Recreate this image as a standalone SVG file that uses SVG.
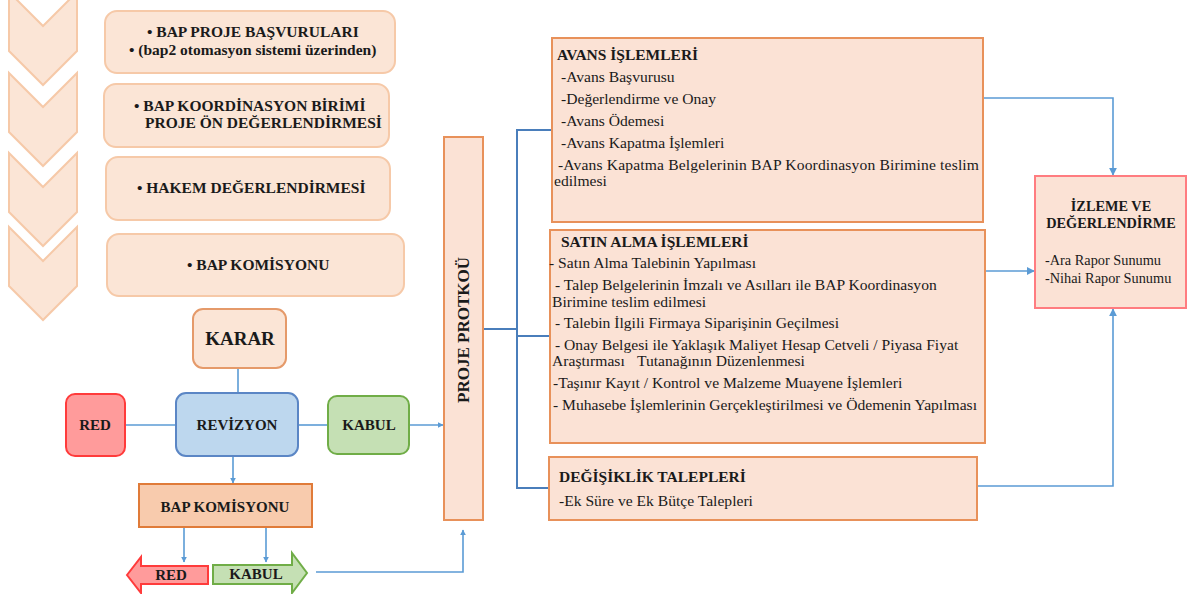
<svg xmlns="http://www.w3.org/2000/svg" width="1187" height="594" viewBox="0 0 1187 594">
<defs>
<style>
.chev{fill:#fbe5d6;stroke:#f6c9a8;stroke-width:2}
.lbox{fill:#fbe5d6;stroke:#f6c9a8;stroke-width:2}
.rbox{fill:#fbe2d5;stroke:#e8915a;stroke-width:2}
.con{fill:none;stroke:#5b9bd5;stroke-width:1.6}
.dcon{fill:none;stroke:#4a7ebb;stroke-width:2}
</style>
<marker id="ah" viewBox="0 0 10 10" refX="9" refY="5" markerWidth="6" markerHeight="6" markerUnits="userSpaceOnUse" orient="auto">
<path d="M0,0 L10,5 L0,10 z" fill="#5b9bd5"/>
</marker>
<marker id="ah2" viewBox="0 0 10 10" refX="9" refY="5" markerWidth="8" markerHeight="8" markerUnits="userSpaceOnUse" orient="auto">
<path d="M0,0 L10,5 L0,10 z" fill="#5b9bd5"/>
</marker>
</defs>
<rect width="1187" height="594" fill="#ffffff"/>

<g id="chevrons">
<polygon class="chev" points="9,-8 43,26 77,-8 77,51 43,85 9,51"/>
<polygon class="chev" points="9,73 43,107 77,73 77,132 43,166 9,132"/>
<polygon class="chev" points="9,153 43,187 77,153 77,212 43,246 9,212"/>
<polygon class="chev" points="9,227 43,261 77,227 77,286 43,320 9,286"/>
</g>

<g id="step1">
<rect class="lbox" x="105" y="11" width="290" height="62" rx="12"/>
<text font-family="Liberation Serif" font-size="15.5" font-weight="bold" fill="#1a1a1a" x="147" y="37">• BAP PROJE BAŞVURULARI</text>
<text font-family="Liberation Serif" font-size="15.5" font-weight="bold" fill="#1a1a1a" x="129" y="55">• (bap2 otomasyon sistemi üzerinden)</text>
</g>
<g id="step2">
<rect class="lbox" x="104" y="84" width="285" height="63" rx="12"/>
<text font-family="Liberation Serif" font-size="15.5" font-weight="bold" fill="#1a1a1a" x="134" y="111">• BAP KOORDİNASYON BİRİMİ</text>
<text font-family="Liberation Serif" font-size="15.5" font-weight="bold" fill="#1a1a1a" x="145" y="128">PROJE ÖN DEĞERLENDİRMESİ</text>
</g>
<g id="step3">
<rect class="lbox" x="106" y="157" width="284" height="63" rx="12"/>
<text font-family="Liberation Serif" font-size="15.5" font-weight="bold" fill="#1a1a1a" x="137" y="193">• HAKEM DEĞERLENDİRMESİ</text>
</g>
<g id="step4">
<rect class="lbox" x="107" y="234" width="297" height="62" rx="12"/>
<text font-family="Liberation Serif" font-size="15.5" font-weight="bold" fill="#1a1a1a" x="187" y="270">• BAP KOMİSYONU</text>
</g>

<g id="connectors">
<line class="con" x1="238" y1="368" x2="238" y2="393"/>
<line class="con" x1="125" y1="425" x2="176" y2="425"/>
<line class="con" x1="298" y1="425" x2="328" y2="425"/>
<line class="con" x1="409" y1="425" x2="443" y2="425" marker-end="url(#ah)"/>
<line class="con" x1="233" y1="457" x2="233" y2="483" marker-end="url(#ah)"/>
<line class="con" x1="184" y1="527" x2="184" y2="562" marker-end="url(#ah)"/>
<line class="con" x1="266" y1="527" x2="266" y2="562" marker-end="url(#ah)"/>
<path class="con" d="M316,572 H463 V530" marker-end="url(#ah)"/>
<path class="dcon" d="M483,329 H517 M517,130 V488 M516,130 H553 M516,336 H550 M516,488 H549"/>
<path class="con" d="M983,98 H1113 V175" marker-end="url(#ah2)"/>
<path class="con" d="M985,271 H1034" marker-end="url(#ah2)"/>
<path class="con" d="M977,486 H1113 V309" marker-end="url(#ah2)"/>
</g>

<g id="karar">
<rect x="193" y="309" width="93" height="59" rx="10" fill="#fbe5d6" stroke="#e59a6a" stroke-width="2"/>
<text font-family="Liberation Serif" font-size="19" font-weight="bold" fill="#1a1a1a" x="240" y="345" text-anchor="middle">KARAR</text>
</g>
<g id="revizyon">
<rect x="176" y="393" width="122" height="63" rx="10" fill="#bdd7ee" stroke="#5b86c5" stroke-width="2"/>
<text font-family="Liberation Serif" font-size="15" font-weight="bold" fill="#1a1a1a" x="237" y="430" text-anchor="middle">REVİZYON</text>
</g>
<g id="red1">
<rect x="66" y="394" width="59" height="62" rx="9" fill="#ff9b9b" stroke="#ff3b3b" stroke-width="2"/>
<text font-family="Liberation Serif" font-size="15" font-weight="bold" fill="#1a1a1a" x="95" y="430" text-anchor="middle">RED</text>
</g>
<g id="kabul1">
<rect x="328" y="396" width="81" height="58" rx="9" fill="#c5e0b4" stroke="#70ad47" stroke-width="2"/>
<text font-family="Liberation Serif" font-size="15" font-weight="bold" fill="#1a1a1a" x="369" y="430" text-anchor="middle">KABUL</text>
</g>
<g id="bapkom">
<rect x="139" y="484" width="173" height="43" fill="#f8cbad" stroke="#e07b39" stroke-width="2"/>
<text font-family="Liberation Serif" font-size="15" font-weight="bold" fill="#1a1a1a" x="225" y="512" text-anchor="middle">BAP KOMİSYONU</text>
</g>
<g id="red2">
<polygon points="127,575 141,557 141,566 208,566 208,584 141,584 141,593" fill="#ff9b9b" stroke="#ff3b3b" stroke-width="2"/>
<text font-family="Liberation Serif" font-size="15" font-weight="bold" fill="#1a1a1a" x="171" y="580" text-anchor="middle">RED</text>
</g>
<g id="kabul2">
<polygon points="213,565 292,565 292,553 307,573 292,593 292,584 213,584" fill="#c5e0b4" stroke="#70ad47" stroke-width="2"/>
<text font-family="Liberation Serif" font-size="15" font-weight="bold" fill="#1a1a1a" x="256" y="579" text-anchor="middle">KABUL</text>
</g>

<g id="proje">
<rect x="444" y="137" width="39" height="383" fill="#fbe2d5" stroke="#e8915a" stroke-width="2"/>
<text font-family="Liberation Serif" font-size="17" font-weight="bold" fill="#1a1a1a" transform="translate(469,330) rotate(-90)" text-anchor="middle">PROJE PROTKOÜ</text>
</g>

<g id="avans">
<rect class="rbox" x="552" y="38" width="431" height="184"/>
<text font-family="Liberation Serif" font-size="15.5" font-weight="bold" fill="#1a1a1a" x="557" y="60">AVANS İŞLEMLERİ</text>
<text font-family="Liberation Serif" font-size="15.6" fill="#1a1a1a" x="561" y="82">-Avans Başvurusu</text>
<text font-family="Liberation Serif" font-size="15.6" fill="#1a1a1a" x="561" y="104">-Değerlendirme ve Onay</text>
<text font-family="Liberation Serif" font-size="15.6" fill="#1a1a1a" x="561" y="126">-Avans Ödemesi</text>
<text font-family="Liberation Serif" font-size="15.6" fill="#1a1a1a" x="561" y="148">-Avans Kapatma İşlemleri</text>
<text font-family="Liberation Serif" font-size="15.6" fill="#1a1a1a" x="558" y="170" textLength="421" lengthAdjust="spacing">-Avans Kapatma Belgelerinin BAP Koordinasyon Birimine teslim</text>
<text font-family="Liberation Serif" font-size="15.6" fill="#1a1a1a" x="554" y="186">edilmesi</text>
</g>

<g id="satin">
<rect class="rbox" x="550" y="230" width="435" height="213"/>
<text font-family="Liberation Serif" font-size="15.5" font-weight="bold" fill="#1a1a1a" x="561" y="247">SATIN ALMA İŞLEMLERİ</text>
<text font-family="Liberation Serif" font-size="15.6" fill="#1a1a1a" x="549" y="268">- Satın Alma Talebinin Yapılması</text>
<text font-family="Liberation Serif" font-size="15.6" fill="#1a1a1a" x="555" y="290">- Talep Belgelerinin İmzalı ve Asılları ile BAP Koordinasyon</text>
<text font-family="Liberation Serif" font-size="15.6" fill="#1a1a1a" x="552" y="307">Birimine teslim edilmesi</text>
<text font-family="Liberation Serif" font-size="15.6" fill="#1a1a1a" x="555" y="328">- Talebin İlgili Firmaya Siparişinin Geçilmesi</text>
<text font-family="Liberation Serif" font-size="15.6" fill="#1a1a1a" x="555" y="350">- Onay Belgesi ile Yaklaşık Maliyet Hesap Cetveli / Piyasa Fiyat</text>
<text font-family="Liberation Serif" font-size="15.6" fill="#1a1a1a" x="552" y="366">Araştırması<tspan x="637">Tutanağının Düzenlenmesi</tspan></text>
<text font-family="Liberation Serif" font-size="15.6" fill="#1a1a1a" x="553" y="388">-Taşınır Kayıt / Kontrol ve Malzeme Muayene İşlemleri</text>
<text font-family="Liberation Serif" font-size="15.6" fill="#1a1a1a" x="553" y="410">- Muhasebe İşlemlerinin Gerçekleştirilmesi ve Ödemenin Yapılması</text>
</g>

<g id="degisiklik">
<rect class="rbox" x="549" y="457" width="428" height="63"/>
<text font-family="Liberation Serif" font-size="15.5" font-weight="bold" fill="#1a1a1a" x="559" y="482">DEĞİŞİKLİK TALEPLERİ</text>
<text font-family="Liberation Serif" font-size="15.6" fill="#1a1a1a" x="559" y="506">-Ek Süre ve Ek Bütçe Talepleri</text>
</g>

<g id="izleme">
<rect x="1035" y="176" width="151" height="132" fill="#fbe2d5" stroke="#ff7c80" stroke-width="2"/>
<text font-family="Liberation Serif" font-size="14.3" font-weight="bold" fill="#1a1a1a" x="1111" y="211" text-anchor="middle">İZLEME VE</text>
<text font-family="Liberation Serif" font-size="14.3" font-weight="bold" fill="#1a1a1a" x="1111" y="228" text-anchor="middle">DEĞERLENDİRME</text>
<text font-family="Liberation Serif" font-size="14.3" fill="#1a1a1a" x="1045" y="265">-Ara Rapor Sunumu</text>
<text font-family="Liberation Serif" font-size="14.3" fill="#1a1a1a" x="1045" y="283">-Nihai Rapor Sunumu</text>
</g>
</svg>
